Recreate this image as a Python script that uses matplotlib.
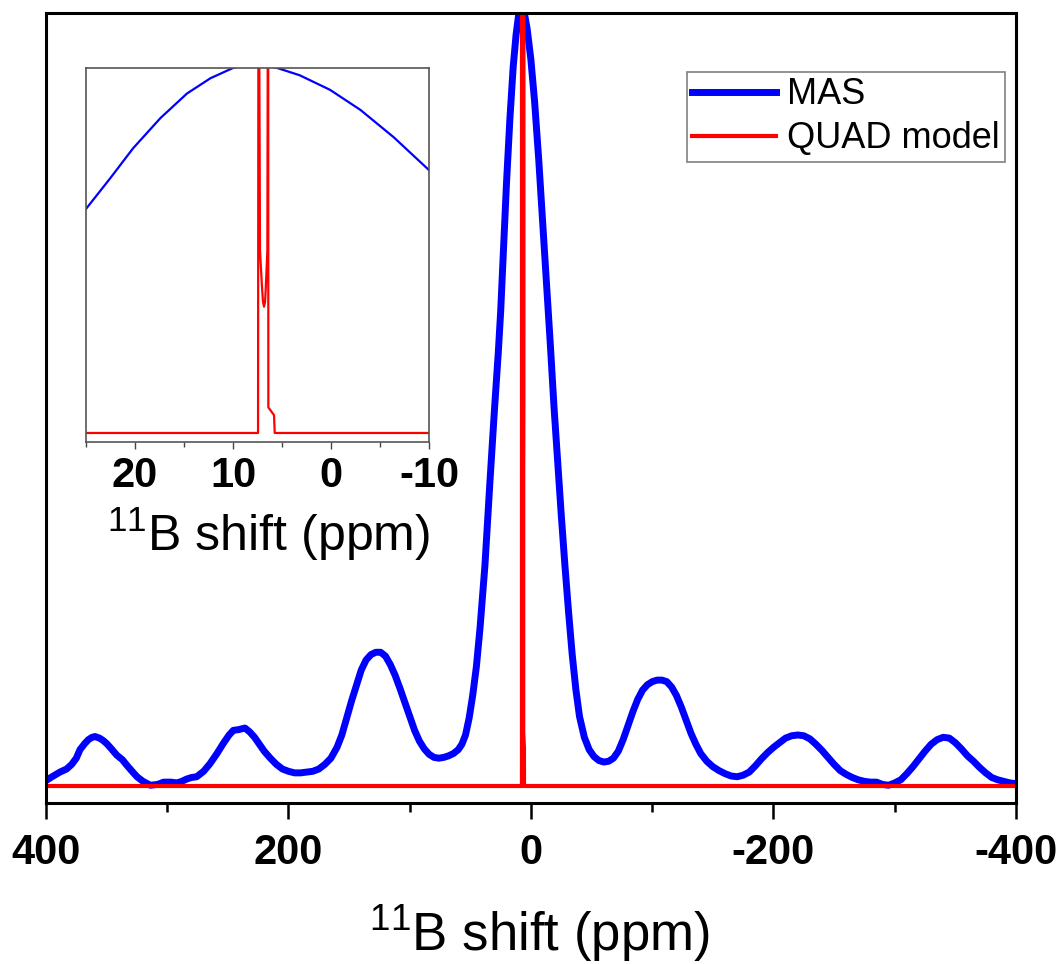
import matplotlib
matplotlib.use("Agg")
import matplotlib.pyplot as plt
from matplotlib.ticker import MultipleLocator

plt.rcParams['font.family'] = ['Liberation Sans', 'DejaVu Sans']
plt.rcParams['mathtext.fontset'] = 'custom'
plt.rcParams['mathtext.rm'] = 'Liberation Sans'
plt.rcParams['mathtext.it'] = 'Liberation Sans:italic'
plt.rcParams['mathtext.bf'] = 'Liberation Sans:bold'

# 11B MAS spectrum (chemical shift in ppm, normalised intensity)
mas_ppm = [400, 395, 388.5, 383, 378.8, 375, 372, 368, 365, 362, 359.6, 356, 353, 350,
           346, 341.7, 337, 333.4, 329, 325, 320, 314, 308, 303, 297, 292, 288, 284,
           280, 275.7, 270, 264.7, 259, 253.8, 249, 245.5, 241, 235.9, 232, 228, 224,
           220, 215, 210, 205, 200, 195, 190, 185, 180, 175, 170, 165, 160, 156, 152,
           148, 144, 140, 136, 132, 128, 124, 120, 116, 112, 108, 104, 100, 96, 92,
           88, 84, 80, 76, 72, 68, 64, 60, 57, 54, 51, 48, 45, 42, 38, 34, 30, 27, 25,
           22.5, 20.2, 17.4, 14.7, 12.3, 10, 7.8, 5.5, 3.2, 0.1, -3, -6.4, -10, -13,
           -16, -19, -22, -25, -28, -31, -34, -37, -40, -44, -48, -52, -56, -60, -64,
           -68, -72, -76, -80, -84, -88, -92, -96, -100, -104, -108, -112, -116, -120,
           -124, -128, -132, -136, -140, -145, -150, -155, -160, -165, -170, -175,
           -180, -185, -190, -195, -200, -205, -210, -215, -220, -225, -230, -235,
           -240, -245, -250, -255, -260, -265, -270, -275, -280, -285, -290, -295,
           -300, -305, -310, -315, -320, -325, -330, -335, -340, -345, -350, -355,
           -360, -365, -370, -375, -380, -385, -390, -395, -400]
mas_int = [0.007, 0.012, 0.018, 0.022, 0.028, 0.036, 0.047, 0.055, 0.060, 0.063, 0.064,
           0.062, 0.059, 0.055, 0.048, 0.040, 0.034, 0.027, 0.019, 0.012, 0.006, 0.001,
           0.002, 0.005, 0.005, 0.004, 0.006, 0.009, 0.011, 0.012, 0.019, 0.029, 0.042,
           0.055, 0.066, 0.072, 0.073, 0.075, 0.070, 0.063, 0.054, 0.045, 0.036, 0.028,
           0.022, 0.019, 0.017, 0.017, 0.018, 0.019, 0.022, 0.028, 0.036, 0.050, 0.066,
           0.088, 0.110, 0.130, 0.150, 0.163, 0.170, 0.173, 0.173, 0.168, 0.157, 0.143,
           0.126, 0.108, 0.090, 0.072, 0.058, 0.048, 0.041, 0.037, 0.036, 0.037, 0.039,
           0.042, 0.047, 0.054, 0.066, 0.088, 0.118, 0.155, 0.205, 0.285, 0.390, 0.490,
           0.560, 0.614, 0.699, 0.780, 0.863, 0.930, 0.972, 1.000, 1.015, 1.000, 0.980,
           0.940, 0.885, 0.810, 0.720, 0.645, 0.570, 0.490, 0.420, 0.350, 0.285, 0.225,
           0.170, 0.125, 0.090, 0.063, 0.047, 0.038, 0.033, 0.031, 0.032, 0.036, 0.045,
           0.060, 0.078, 0.096, 0.112, 0.124, 0.131, 0.135, 0.137, 0.137, 0.135, 0.128,
           0.117, 0.102, 0.085, 0.068, 0.054, 0.042, 0.032, 0.025, 0.020, 0.016, 0.013,
           0.012, 0.014, 0.018, 0.026, 0.035, 0.043, 0.050, 0.056, 0.062, 0.065, 0.066,
           0.065, 0.061, 0.054, 0.046, 0.037, 0.028, 0.020, 0.015, 0.011, 0.008, 0.006,
           0.005, 0.005, 0.002, 0.001, 0.004, 0.008, 0.016, 0.025, 0.035, 0.045, 0.054,
           0.060, 0.063, 0.062, 0.056, 0.048, 0.039, 0.032, 0.024, 0.017, 0.011, 0.008,
           0.006, 0.004, 0.003]

# Simulated quadrupolar line shape (off-scale spikes near 7 ppm)
quad_ppm = [400, 7.45, 7.40, 7.25, 7.07, 6.95, 6.84, 6.73, 6.64, 6.50, 6.42, 6.40,
            5.82, 5.75, -400]
quad_int = [0.0, 0.0, 1.6, 0.50, 0.41, 0.36, 0.346, 0.36, 0.41, 0.50, 1.6, 0.07,
            0.049, 0.0, 0.0]

main_ticks = [400, 200, 0, -200, -400]
inset_ticks = [20, 10, 0, -10]
xlabel = r'$^{11}$B shift (ppm)'

BLUE = '#0000ff'
RED = '#ff0000'

fig = plt.figure(figsize=(10.61, 9.64), dpi=100)

# main panel
ax = fig.add_axes([0.04336, 0.167, 0.9142, 0.8195])
ax.plot(mas_ppm, mas_int, color=BLUE, lw=5, label='MAS', solid_joinstyle='round')
ax.plot(quad_ppm, quad_int, color=RED, lw=3, label='QUAD model')
ax.set_xlim(400, -400)
ax.set_ylim(-0.022, 1.0)
ax.set_xticks(main_ticks)
ax.set_xticklabels([str(t) for t in main_ticks], fontweight='bold')
ax.xaxis.set_minor_locator(MultipleLocator(100))
ax.set_yticks([])
ax.tick_params(axis='x', which='major', length=11.5, width=1.8, direction='out',
               pad=10, labelsize=30)
ax.tick_params(axis='x', which='minor', length=6.5, width=1.8, direction='out')
for sp in ax.spines.values():
    sp.set_linewidth(2.2)
ax.set_xlabel(xlabel, fontsize=38)
ax.xaxis.set_label_coords(0.509, -0.1265, transform=ax.transAxes)
ax.xaxis.label.set_verticalalignment('top')

leg = ax.legend(loc='upper right', bbox_to_anchor=(0.9887, 0.9253), borderaxespad=0,
                fontsize=26, frameon=True, fancybox=False, edgecolor='#808080',
                handlelength=2.33, handletextpad=0.3, borderpad=0.15,
                labelspacing=0.25, framealpha=1)
leg.get_frame().set_linewidth(1.2)

# inset: zoom on the central line
axi = fig.add_axes([0.0811, 0.5415, 0.3233, 0.388])
axi.plot(mas_ppm, mas_int, color=BLUE, lw=1.6)
axi.plot(quad_ppm, quad_int, color=RED, lw=1.6)
axi.set_xlim(25, -10)
axi.set_ylim(-0.0247, 1.0)
axi.set_xticks(inset_ticks)
axi.set_xticklabels([str(t) for t in inset_ticks], fontweight='bold')
axi.xaxis.set_minor_locator(MultipleLocator(5))
axi.set_yticks([])
axi.tick_params(axis='x', which='major', length=5, width=1, direction='out',
                pad=5, labelsize=30, color='#444444')
axi.tick_params(axis='x', which='minor', length=3.5, width=1, direction='out',
                color='#444444')
for sp in axi.spines.values():
    sp.set_linewidth(1.2)
    sp.set_color('#555555')
axi.set_xlabel(xlabel, fontsize=36)
axi.xaxis.set_label_coords(0.532, -0.1711, transform=axi.transAxes)
axi.xaxis.label.set_verticalalignment('top')

fig.savefig('out.png', dpi=100)
